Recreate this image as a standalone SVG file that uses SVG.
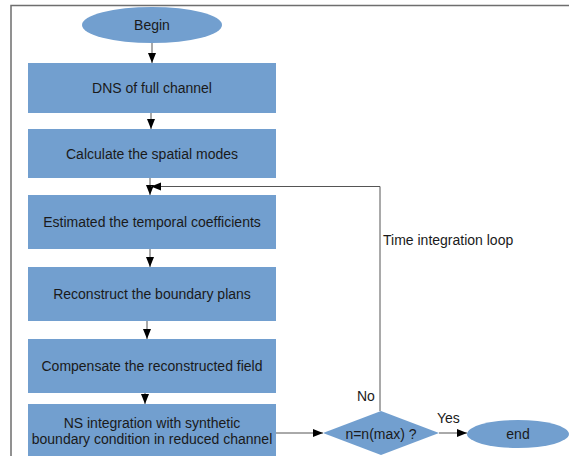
<svg xmlns="http://www.w3.org/2000/svg" width="569" height="456" viewBox="0 0 569 456">
  <style>
    .shape { fill: #729fcf; stroke: none; }
    .label { font-family: "Liberation Sans", Arial, sans-serif; font-size: 14px; fill: #1a1a1a; text-anchor: middle; dominant-baseline: central; }
    .note { font-family: "Liberation Sans", Arial, sans-serif; font-size: 14px; fill: #1a1a1a; }
    .edge { fill: none; stroke: #555; stroke-width: 1; }
    .frame { fill: none; stroke: #6e6e6e; stroke-width: 1.5; }
  </style>
  <defs>
    <marker id="arrow" viewBox="0 0 10 10" refX="10" refY="5" markerWidth="10" markerHeight="10" markerUnits="userSpaceOnUse" orient="auto">
      <path d="M0,1 L10,5 L0,9 Z" fill="#000"/>
    </marker>
  </defs>
  <rect width="569" height="456" fill="#fff"/>
  <path class="frame" d="M11,456 V5.5 H569"/>

  <g id="connectors">
    <line class="edge" x1="152" y1="43" x2="152" y2="63" marker-end="url(#arrow)"/>
    <line class="edge" x1="151" y1="113" x2="151" y2="129" marker-end="url(#arrow)"/>
    <line class="edge" x1="150" y1="178" x2="150" y2="195" marker-end="url(#arrow)"/>
    <line class="edge" x1="150" y1="249" x2="150" y2="267" marker-end="url(#arrow)"/>
    <line class="edge" x1="147" y1="321" x2="147" y2="339" marker-end="url(#arrow)"/>
    <line class="edge" x1="145" y1="393" x2="145" y2="404" marker-end="url(#arrow)"/>
    <line class="edge" x1="276" y1="433" x2="323" y2="433" marker-end="url(#arrow)"/>
    <polyline class="edge" points="380,411 380,186.5 151,186.5" marker-end="url(#arrow)"/>
    <line class="edge" x1="439" y1="433" x2="467" y2="433" marker-end="url(#arrow)"/>
  </g>

  <g id="begin">
    <ellipse class="shape" cx="152" cy="25" rx="70" ry="18"/>
    <text class="label" x="152" y="25">Begin</text>
  </g>
  <g id="dns">
    <rect class="shape" x="28" y="63" width="248" height="50"/>
    <text class="label" x="152" y="88">DNS of full channel</text>
  </g>
  <g id="spatial-modes">
    <rect class="shape" x="28" y="129" width="248" height="49"/>
    <text class="label" x="152" y="153.5">Calculate the spatial modes</text>
  </g>
  <g id="temporal-coefficients">
    <rect class="shape" x="28" y="195" width="248" height="54"/>
    <text class="label" x="152" y="222">Estimated the temporal coefficients</text>
  </g>
  <g id="boundary-plans">
    <rect class="shape" x="28" y="267" width="248" height="54"/>
    <text class="label" x="152" y="294">Reconstruct the boundary plans</text>
  </g>
  <g id="compensate">
    <rect class="shape" x="28" y="339" width="248" height="54"/>
    <text class="label" x="152" y="366">Compensate the reconstructed field</text>
  </g>
  <g id="ns-integration">
    <rect class="shape" x="28" y="404" width="248" height="60"/>
    <text class="label" x="152" y="423">NS integration with synthetic</text>
    <text class="label" x="152" y="439">boundary condition in reduced channel</text>
  </g>
  <g id="decision">
    <polygon class="shape" points="323,433 381,411 439,433 381,455"/>
    <text class="label" x="381" y="434">n=n(max) ?</text>
  </g>
  <g id="end">
    <ellipse class="shape" cx="518" cy="434" rx="51" ry="14"/>
    <text class="label" x="518" y="434">end</text>
  </g>

  <text class="note" x="383" y="245">Time integration loop</text>
  <text class="note" x="357" y="401">No</text>
  <text class="note" x="437" y="423">Yes</text>
</svg>
